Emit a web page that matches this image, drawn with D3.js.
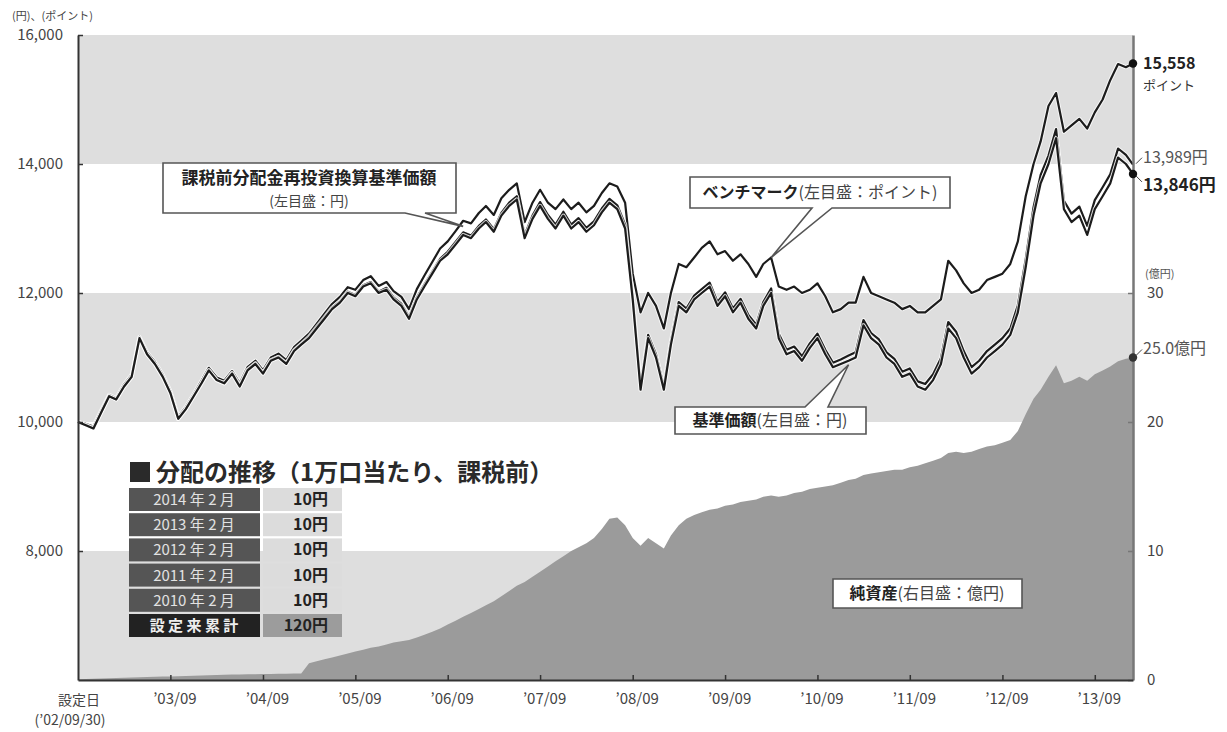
<!DOCTYPE html>
<html>
<head>
<meta charset="utf-8">
<script src="https://cdn.jsdelivr.net/npm/d3@7"></script>
<style>
  body{margin:0;background:#fff;}
  svg{display:block;}
  svg text{font-family:"Noto Sans CJK JP","Noto Sans",sans-serif;}
</style>
</head>
<body>
<div id="chart"></div>
<script>
// monthly readings, first point = 設定日 2002/09/30, one per month end up to 2014/02
var startDate = new Date(2002, 8, 30);
var endDate = new Date(2014, 1, 28);

// 基準価額 (円)
var navValues = [
  10000, 9950, 9900, 10150, 10400, 10350, 10550, 10700, 11300, 11050,
  10900, 10700, 10450, 10050, 10200, 10400, 10600, 10800, 10650, 10600,
  10750, 10550, 10800, 10900, 10750, 10950, 11000, 10900, 11100, 11200,
  11300, 11450, 11600, 11750, 11850, 12000, 11950, 12100, 12150, 12000,
  12050, 11900, 11800, 11600, 11900, 12100, 12300, 12500, 12600, 12750,
  12900, 12850, 13000, 13100, 12950, 13200, 13350, 13450, 12850, 13150,
  13350, 13150, 13000, 13200, 13000, 13100, 12950, 13050, 13250, 13400,
  13300, 13000, 11900, 10500, 11300, 11000, 10500, 11200, 11800, 11700,
  11900, 12000, 12100, 11800, 11950, 11700, 11850, 11600, 11450, 11800,
  12000, 11300, 11050, 11100, 10950, 11150, 11300, 11050, 10850, 10900,
  10950, 11000, 11500, 11300, 11200, 11000, 10900, 10700, 10750, 10550,
  10500, 10650, 10900, 11450, 11300, 11000, 10750, 10850, 11000, 11100,
  11200, 11350, 11700, 12400, 13200, 13700, 14000, 14400, 13300, 13100,
  13200, 12900, 13300, 13500, 13700, 14100, 14000, 13846
];

// ベンチマーク (ポイント)
var benchmarkValues = [
  10000, 9970, 9930, 10180, 10420, 10370, 10580, 10730, 11320, 11080,
  10930, 10730, 10480, 10080, 10230, 10430, 10640, 10840, 10690, 10640,
  10790, 10600, 10850, 10950, 10800, 11000, 11060, 10960, 11160, 11260,
  11370, 11520, 11680, 11830, 11940, 12090, 12050, 12200, 12260, 12110,
  12170, 12030, 11940, 11750, 12060, 12270, 12480, 12690, 12800, 12960,
  13120, 13080, 13240, 13350, 13210, 13470, 13600, 13700, 13100, 13400,
  13600, 13400, 13300, 13450, 13300, 13400, 13250, 13350, 13550, 13700,
  13650, 13400, 12300, 11700, 12000, 11800, 11450, 12000, 12450, 12400,
  12550, 12700, 12800, 12600, 12650, 12500, 12600, 12450, 12250, 12450,
  12550, 12100, 12050, 12100, 12000, 12050, 12150, 11950, 11700, 11750,
  11850, 11850, 12250, 12000, 11950, 11900, 11850, 11750, 11800, 11700,
  11700, 11800, 11900, 12500, 12350, 12150, 12000, 12050, 12200, 12250,
  12300, 12450, 12800, 13500, 14000, 14350, 14900, 15100, 14500, 14600,
  14700, 14550, 14800, 15000, 15300, 15550, 15500, 15558
];

// 課税前分配金再投資換算基準価額 (円)
var reinvestValues = [
  10000, 9950, 9900, 10150, 10400, 10350, 10550, 10700, 11300, 11050,
  10900, 10700, 10450, 10050, 10200, 10400, 10600, 10800, 10650, 10600,
  10760, 10560, 10810, 10910, 10760, 10960, 11010, 10910, 11110, 11210,
  11320, 11470, 11620, 11770, 11870, 12020, 11970, 12120, 12170, 12020,
  12080, 11930, 11830, 11630, 11930, 12130, 12330, 12530, 12640, 12790,
  12940, 12890, 13040, 13140, 12990, 13240, 13400, 13500, 12900, 13200,
  13410, 13210, 13060, 13260, 13060, 13160, 13010, 13110, 13310, 13460,
  13360, 13060, 11950, 10550, 11350, 11050, 10550, 11250, 11860, 11760,
  11960, 12060, 12160, 11860, 12010, 11760, 11910, 11660, 11510, 11860,
  12070, 11370, 11120, 11170, 11020, 11220, 11370, 11120, 10920, 10970,
  11030, 11080, 11580, 11380, 11280, 11080, 10980, 10780, 10830, 10630,
  10590, 10740, 10990, 11550, 11400, 11100, 10850, 10950, 11100, 11200,
  11300, 11450, 11810, 12520, 13330, 13830, 14130, 14540, 13430, 13230,
  13340, 13040, 13440, 13640, 13840, 14240, 14140, 13989
];

// 純資産 (億円)
var netAssets = [
  0.05, 0.08, 0.1, 0.12, 0.14, 0.15, 0.17, 0.19, 0.22, 0.24,
  0.25, 0.27, 0.28, 0.3, 0.31, 0.33, 0.35, 0.37, 0.38, 0.4,
  0.42, 0.43, 0.44, 0.45, 0.46, 0.47, 0.48, 0.49, 0.5, 0.5,
  1.3, 1.45, 1.6, 1.75, 1.9, 2.05, 2.2, 2.35, 2.5, 2.6,
  2.75, 2.9, 3.0, 3.1, 3.3, 3.5, 3.75, 4.0, 4.3, 4.6,
  4.9, 5.2, 5.5, 5.8, 6.1, 6.5, 6.9, 7.3, 7.6, 8.0,
  8.4, 8.8, 9.2, 9.6, 10.0, 10.3, 10.6, 11.0, 11.7, 12.5,
  12.6, 12.0, 11.0, 10.4, 11.0, 10.6, 10.2, 11.2, 12.0, 12.5,
  12.8, 13.0, 13.2, 13.3, 13.5, 13.6, 13.8, 13.9, 14.0, 14.2,
  14.3, 14.2, 14.3, 14.5, 14.6, 14.8, 14.9, 15.0, 15.1, 15.3,
  15.5, 15.6, 15.9, 16.0, 16.1, 16.2, 16.3, 16.3, 16.5, 16.6,
  16.8, 17.0, 17.2, 17.6, 17.7, 17.6, 17.7, 17.9, 18.1, 18.2,
  18.4, 18.6, 19.3, 20.6, 21.8, 22.5, 23.5, 24.4, 23.0, 23.2,
  23.5, 23.2, 23.7, 24.0, 24.3, 24.7, 24.9, 25.0
];

var leftTicks = [8000, 10000, 12000, 14000, 16000];
var rightTicks = [0, 10, 20, 30];
var tickYears = [2003, 2004, 2005, 2006, 2007, 2008, 2009, 2010, 2011, 2012, 2013];
var bands = [[6000, 8000], [10000, 12000], [14000, 16000]];

var distLabels = ["2014 年 2 月", "2013 年 2 月", "2012 年 2 月", "2011 年 2 月", "2010 年 2 月"];
var distAmounts = ["10円", "10円", "10円", "10円", "10円"];
var totalLabel = "設 定 来 累 計";
var totalAmount = "120円";

var FONT = "'Noto Sans CJK JP', 'Noto Sans', sans-serif";

var dates = navValues.map(function(d, i){
  return i === 0 ? startDate : new Date(2002, 9 + i, 0);
});

var width = 1227, height = 732;
var svg = d3.select("#chart").append("svg")
  .attr("width", width).attr("height", height)
  .attr("font-family", FONT);

var x = d3.scaleTime().domain([startDate, endDate]).range([78, 1133]);
var yL = d3.scaleLinear().domain([6000, 16000]).range([680, 35]);
var yR = d3.scaleLinear().domain([0, 50]).range([680, 35]);

// background bands
svg.append("g").selectAll("rect")
  .data(bands)
  .join("rect")
  .attr("x", x.range()[0])
  .attr("width", x.range()[1] - x.range()[0])
  .attr("y", d => yL(d[1]))
  .attr("height", d => yL(d[0]) - yL(d[1]))
  .attr("fill", "#dedede");

// net assets area
var area = d3.area()
  .x((d, i) => x(dates[i]))
  .y0(yR(0))
  .y1(d => yR(d));
svg.append("path")
  .datum(netAssets)
  .attr("d", area)
  .attr("fill", "#9b9b9b");

// lines
var line = d3.line()
  .x((d, i) => x(dates[i]))
  .y(d => yL(d));
[benchmarkValues, reinvestValues, navValues].forEach(function(series){
  svg.append("path").datum(series).attr("d", line)
    .attr("fill", "none").attr("stroke", "rgba(255,255,255,0.75)").attr("stroke-width", 4.2)
    .attr("stroke-linejoin", "round");
  svg.append("path").datum(series).attr("d", line)
    .attr("fill", "none").attr("stroke", "#1c1c1c").attr("stroke-width", 2.2)
    .attr("stroke-linejoin", "round");
});

// axes
var axLeft = svg.append("g").attr("transform", "translate(78,0)")
  .call(d3.axisLeft(yL).tickValues(leftTicks).tickSize(-5).tickSizeOuter(0).tickPadding(15)
    .tickFormat(d3.format(",")));
var axRight = svg.append("g").attr("transform", "translate(1133,0)")
  .call(d3.axisRight(yR).tickValues(rightTicks).tickSize(-5).tickSizeOuter(0).tickPadding(14));
var axBottom = svg.append("g").attr("transform", "translate(0,680)")
  .call(d3.axisBottom(x).tickValues(tickYears.map(y => new Date(y, 8, 30)))
    .tickSize(-5).tickSizeOuter(0).tickPadding(13)
    .tickFormat(d3.timeFormat("’%y/%m")));

[axLeft, axBottom].forEach(function(g){
  g.select(".domain").attr("stroke", "#333").attr("stroke-width", 2);
  g.selectAll(".tick line").attr("stroke", "#333").attr("stroke-width", 1.5);
});
axRight.select(".domain").attr("stroke", "#777").attr("stroke-width", 2.5);
axRight.selectAll(".tick line").attr("stroke", "#777").attr("stroke-width", 1.5);
[axLeft, axRight, axBottom].forEach(function(g){
  g.attr("font-family", FONT);
  g.selectAll("text").attr("font-size", 15).attr("fill", "#444");
});
axBottom.selectAll(".tick text").attr("dx", 4);

svg.append("text").attr("x", 12).attr("y", 20).attr("font-size", 11).attr("fill", "#444")
  .text("(円)、(ポイント)");
svg.append("text").attr("x", 1145).attr("y", yR(30) - 15).attr("font-size", 11).attr("fill", "#555")
  .text("(億円)");
svg.append("text").attr("x", 79).attr("y", 705).attr("text-anchor", "middle")
  .attr("font-size", 14).attr("fill", "#444").text("設定日");
svg.append("text").attr("x", 70).attr("y", 725).attr("text-anchor", "middle")
  .attr("font-size", 14).attr("fill", "#444").text("(’02/09/30)");

// end labels
var last = navValues.length - 1;
var xe = x(dates[last]);
function endDot(yy, col){
  svg.append("circle").attr("cx", xe).attr("cy", yy).attr("r", 4.2).attr("fill", col);
}
function leader(y1, y2){
  svg.append("line").attr("x1", xe + 3).attr("y1", y1).attr("x2", xe + 9).attr("y2", y2)
    .attr("stroke", "#444").attr("stroke-width", 1);
}
endDot(yL(benchmarkValues[last]), "#111");
svg.append("text").attr("x", xe + 10).attr("y", yL(benchmarkValues[last]) + 5)
  .attr("font-size", 16).attr("font-weight", "bold").attr("fill", "#222")
  .text(d3.format(",")(benchmarkValues[last]));
svg.append("text").attr("x", xe + 10).attr("y", yL(benchmarkValues[last]) + 26)
  .attr("font-size", 13).attr("fill", "#333").text("ポイント");

leader(yL(reinvestValues[last]) - 1, yL(reinvestValues[last]) - 7);
svg.append("text").attr("x", xe + 10).attr("y", yL(reinvestValues[last]) - 2)
  .attr("font-size", 16).attr("fill", "#555")
  .text(d3.format(",")(reinvestValues[last]) + "円");

endDot(yL(navValues[last]), "#111");
leader(yL(navValues[last]) + 2, yL(navValues[last]) + 8);
svg.append("text").attr("x", xe + 10).attr("y", yL(navValues[last]) + 17)
  .attr("font-size", 17).attr("font-weight", "bold").attr("fill", "#222")
  .text(d3.format(",")(navValues[last]) + "円");

endDot(yR(netAssets[last]), "#333");
leader(yR(netAssets[last]) - 2, yR(netAssets[last]) - 8);
svg.append("text").attr("x", xe + 10).attr("y", yR(netAssets[last]) - 4)
  .attr("font-size", 16).attr("fill", "#555")
  .text(netAssets[last].toFixed(1) + "億円");

// callout boxes
function callout(box, tail){
  var p = d3.path();
  var r = box.x + box.w, b = box.y + box.h;
  p.moveTo(box.x, box.y);
  if(tail && tail.side === "top"){
    p.lineTo(tail.b1, box.y); p.lineTo(tail.tip[0], tail.tip[1]); p.lineTo(tail.b2, box.y);
  }
  p.lineTo(r, box.y); p.lineTo(r, b);
  if(tail && tail.side === "bottom"){
    p.lineTo(tail.b2, b); p.lineTo(tail.tip[0], tail.tip[1]); p.lineTo(tail.b1, b);
  }
  p.lineTo(box.x, b); p.closePath();
  svg.append("path").attr("d", p.toString()).attr("fill", "#fff")
    .attr("stroke", "#555").attr("stroke-width", 1.6).attr("stroke-linejoin", "miter");
}
function boxText(cx, y, parts, size){
  var t = svg.append("text").attr("x", cx).attr("y", y).attr("text-anchor", "middle")
    .attr("font-size", size);
  parts.forEach(function(p){
    t.append("tspan").text(p[0]).attr("font-weight", p[1] ? "bold" : "normal")
      .attr("fill", p[1] ? "#222" : "#444");
  });
}

callout({x: 163, y: 163, w: 293, h: 50},
  {side: "bottom", b1: 405, b2: 425, tip: [x(dates[50]), yL(reinvestValues[50]) - 6]});
boxText(309, 184, [["課税前分配金再投資換算基準価額", true]], 17);
boxText(309, 206, [["(左目盛：円)", false]], 14);

callout({x: 690, y: 177, w: 260, h: 31},
  {side: "bottom", b1: 812, b2: 832, tip: [x(dates[90]), yL(benchmarkValues[90])]});
boxText(820, 198, [["ベンチマーク", true], ["(左目盛：ポイント)", false]], 16);

callout({x: 675, y: 407, w: 191, h: 27},
  {side: "top", b1: 805, b2: 828, tip: [x(dates[100]), yL(navValues[100]) + 4]});
boxText(770, 426, [["基準価額", true], ["(左目盛：円)", false]], 16);

callout({x: 833, y: 579, w: 189, h: 29}, null);
boxText(927, 599, [["純資産", true], ["(右目盛：億円)", false]], 16);

// distribution table
svg.append("rect").attr("x", 130).attr("y", 462).attr("width", 20).attr("height", 20).attr("fill", "#2a2a2a");
svg.append("text").attr("x", 156).attr("y", 481).attr("font-size", 24).attr("font-weight", "bold")
  .attr("fill", "#2a2a2a").text("分配の推移（1万口当たり、課税前）");

var rows = distLabels.map((d, i) => ({label: d, amount: distAmounts[i], total: false}));
rows.push({label: totalLabel, amount: totalAmount, total: true});
var rowG = svg.append("g").selectAll("g")
  .data(rows)
  .join("g")
  .attr("transform", (d, i) => `translate(0,${488 + i * 25.2})`);
rowG.append("rect").attr("x", 129).attr("width", 131).attr("height", 23)
  .attr("fill", d => d.total ? "#222" : "#555");
rowG.append("rect").attr("x", 263).attr("width", 79).attr("height", 23)
  .attr("fill", d => d.total ? "#9c9c9c" : "#dcdcdc");
rowG.append("text").attr("x", 194).attr("y", 17).attr("text-anchor", "middle")
  .attr("font-size", 15).attr("fill", d => d.total ? "#eee" : "#e2e2e2")
  .attr("font-weight", d => d.total ? "bold" : "normal")
  .text(d => d.label);
rowG.append("text").attr("x", 328).attr("y", 17).attr("text-anchor", "end")
  .attr("font-size", 16).attr("font-weight", "bold").attr("fill", "#222")
  .text(d => d.amount);
</script>
</body>
</html>
